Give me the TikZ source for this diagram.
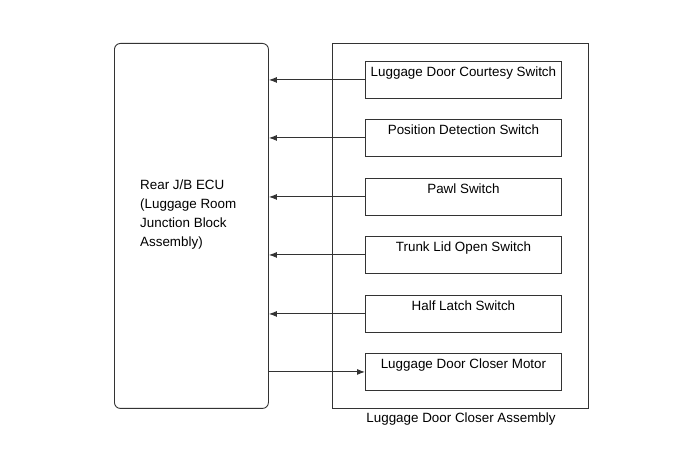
\documentclass[tikz,border=0pt]{standalone}
\usepackage{fontspec}
\setmainfont{Liberation Sans}
\usetikzlibrary{arrows.meta,calc}
\begin{document}
\begin{tikzpicture}[x=1pt,y=-1pt,
  lw/.style={line width=0.9pt, draw=black!80},
  swbox/.style={lw, minimum width=196pt, minimum height=37pt, anchor=north west, inner sep=0pt},
  swtext/.style={font=\fontsize{13.4}{15}\selectfont, anchor=base, inner sep=0pt},
  conn/.style={lw, -{Latex[length=8pt,width=6pt]}}]
\useasboundingbox (0,0) rectangle (689,465);
\node[lw, rounded corners=6pt, minimum width=154pt, minimum height=365pt, anchor=north west, inner sep=0pt] (ecu) at (114,43) {};
\node[anchor=north west, align=left, font=\fontsize{13.4}{18.7}\selectfont, inner sep=0pt] (ecut) at (140,180) {Rear J/B ECU\\(Luggage Room\\Junction Block\\Assembly)};
\node[lw, minimum width=256pt, minimum height=365pt, anchor=north west, inner sep=0pt] (asm) at (332,43) {};
\node[font=\fontsize{13.4}{15}\selectfont, inner sep=0pt, anchor=base] (asml) at (461,423) {Luggage Door Closer Assembly};
\foreach \i/\y/\t in {1/61/Luggage Door Courtesy Switch, 2/119/Position Detection Switch, 3/178/Pawl Switch, 4/236/Trunk Lid Open Switch, 5/295/Half Latch Switch, 6/353/Luggage Door Closer Motor} {
  \node[swbox] (s\i) at (365,\y) {};
  \node[swtext] (t\i) at ($(s\i.north)+(0,15.5)$) {\t};
}
\foreach \i in {1,...,5} {
  \draw[conn] (s\i.west) -- (s\i.west -| ecu.east);
}
\draw[conn] (s6.west -| ecu.east) -- (s6.west);
\end{tikzpicture}
\end{document}
